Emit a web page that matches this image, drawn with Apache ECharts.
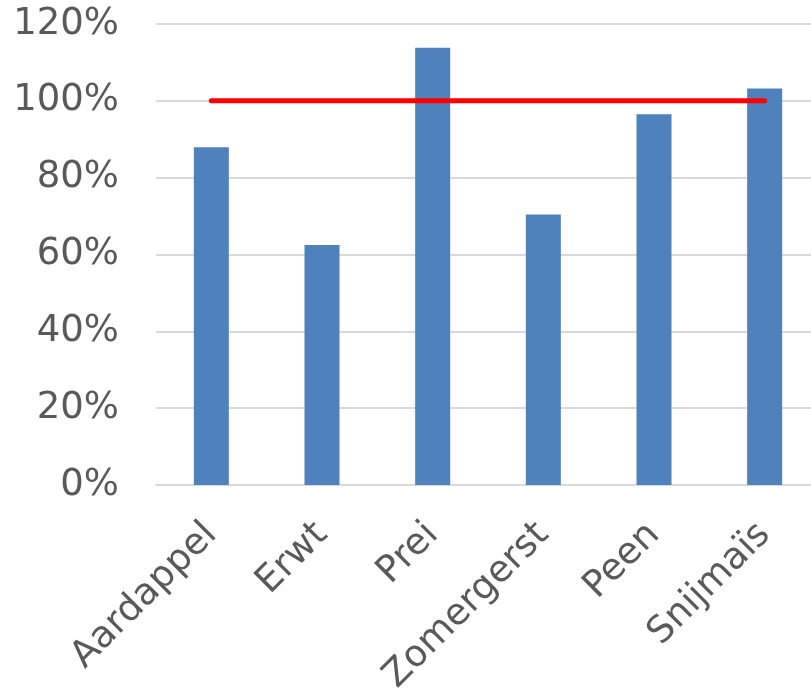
<!DOCTYPE html>
<html>
<head>
<meta charset="utf-8">
<script src="https://cdn.jsdelivr.net/npm/echarts@6/dist/echarts.min.js"></script>
<style>
  html, body { margin: 0; padding: 0; background: #fff; }
  #chart { width: 811px; height: 690px; }
</style>
</head>
<body>
<div id="chart"></div>
<script>
// Crops and their percentage against the norm
const categories = ['Aardappel', 'Erwt', 'Prei', 'Zomergerst', 'Peen', 'Snijmaïs'];
const percentages = [87.9, 62.5, 113.8, 70.4, 96.5, 103.2];
const normLine = [100, 100, 100, 100, 100, 100];
const yTicks = { min: 0, max: 120, interval: 20 };

const chart = echarts.init(document.getElementById('chart'));
const textColor = '#595959';
const fontFamily = 'DejaVu Sans, Verdana, sans-serif';

chart.setOption({
  animation: false,
  backgroundColor: '#ffffff',
  // plot area runs a little past the right edge of the canvas
  grid: {
    left: 156, top: 24, width: 664, bottom: 205,
    containLabel: false,
    outerBoundsMode: 'none'
  },
  xAxis: {
    type: 'category',
    data: categories,
    boundaryGap: true,
    axisLine: { show: true, lineStyle: { color: '#d9d9d9', width: 2 } },
    axisTick: { show: false },
    axisLabel: {
      rotate: 45,
      interval: 0,
      margin: 44,
      color: textColor,
      fontSize: 37,
      fontFamily: fontFamily
    }
  },
  yAxis: {
    type: 'value',
    min: yTicks.min,
    max: yTicks.max,
    interval: yTicks.interval,
    axisLine: { show: false },
    axisTick: { show: false },
    splitLine: { lineStyle: { color: '#d9d9d9', width: 2 } },
    axisLabel: {
      formatter: '{value}%',
      margin: 37,
      color: textColor,
      fontSize: 37,
      fontFamily: fontFamily
    }
  },
  series: [
    {
      type: 'bar',
      data: percentages,
      barWidth: 35,
      itemStyle: { color: '#4f81bd' },
      z: 2
    },
    {
      type: 'line',
      data: normLine,
      symbol: 'none',
      lineStyle: { color: '#ff0000', width: 5, cap: 'round' },
      z: 3
    }
  ]
});
</script>
</body>
</html>
